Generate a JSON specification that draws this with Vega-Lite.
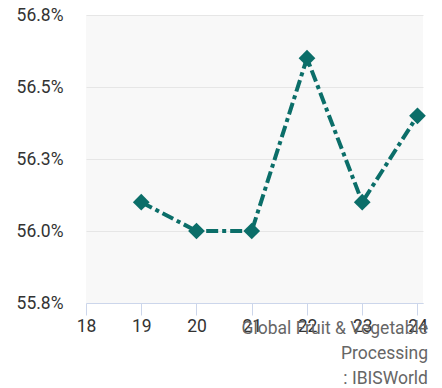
{
  "$schema": "https://vega.github.io/schema/vega-lite/v6.json",
  "width": 337,
  "height": 288,
  "autosize": {"type": "none"},
  "padding": {"left": 86, "top": 15, "right": 19, "bottom": 85},
  "background": "#ffffff",
  "config": {
    "font": "Roboto",
    "view": {"fill": "#f8f8f8", "stroke": null}
  },
  "title": {
    "text": ["Global Fruit & Vegetable", "Processing", ": IBISWorld"],
    "orient": "bottom",
    "anchor": "end",
    "frame": "group",
    "font": "Roboto",
    "fontSize": 17.5,
    "fontWeight": "normal",
    "color": "#666666",
    "lineHeight": 25,
    "dx": 5,
    "offset": -15
  },
  "data": {
    "values": [
      {"year": 19, "share": 56.1},
      {"year": 20, "share": 56.0},
      {"year": 21, "share": 56.0},
      {"year": 22, "share": 56.6},
      {"year": 23, "share": 56.1},
      {"year": 24, "share": 56.4}
    ]
  },
  "encoding": {
    "x": {
      "field": "year",
      "type": "quantitative",
      "scale": {"domain": [18, 24.1], "nice": false, "zero": false},
      "axis": {
        "title": null,
        "values": [18, 19, 20, 21, 22, 23, 24],
        "format": "d",
        "grid": false,
        "labelFlush": false,
        "labelOverlap": false,
        "domainColor": "#ccd6eb",
        "tickColor": "#ccd6eb",
        "tickSize": 12,
        "labelPadding": 2,
        "labelFontSize": 17.5,
        "labelColor": "#333333",
        "labelFont": "Roboto"
      }
    },
    "y": {
      "field": "share",
      "type": "quantitative",
      "scale": {"domain": [55.75, 56.75], "nice": false, "zero": false},
      "axis": {
        "title": null,
        "values": [55.75, 56.0, 56.25, 56.5, 56.75],
        "labelExpr": "format(datum.value, '.1f') + '%'",
        "domain": false,
        "ticks": false,
        "grid": true,
        "gridColor": "#e6e6e6",
        "labelFlush": false,
        "labelPadding": 23,
        "labelFontSize": 17.5,
        "labelColor": "#333333",
        "labelFont": "Roboto"
      }
    }
  },
  "layer": [
    {
      "mark": {
        "type": "line",
        "color": "#0b6e69",
        "strokeWidth": 4,
        "strokeDash": [12, 4, 4, 4]
      }
    },
    {
      "mark": {
        "type": "point",
        "shape": "diamond",
        "filled": true,
        "opacity": 1,
        "size": 280,
        "color": "#0b6e69"
      }
    }
  ]
}
